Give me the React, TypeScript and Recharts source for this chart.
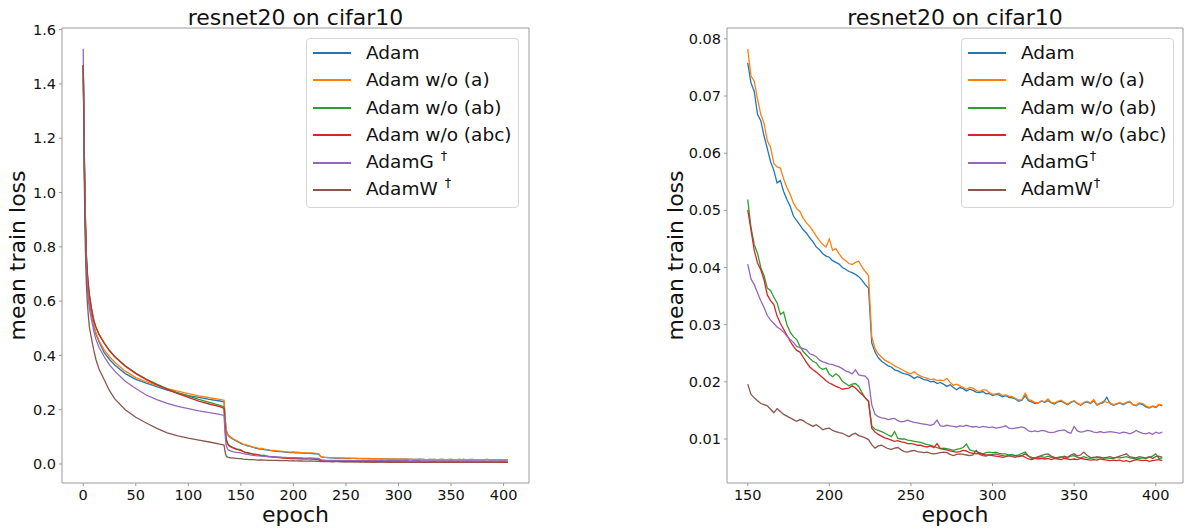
import React from "react";
import { LineChart, Line, XAxis, YAxis, ReferenceArea, Legend } from "recharts";

// epochs 0..148 (irregular), then every 2 epochs 150..404
const epochs = [
  0, 1, 2, 3, 4, 5, 6, 8, 10, 12, 15, 20, 25, 30, 40, 50, 60, 70, 80, 90, 100, 110, 120, 130, 134,
  135, 136, 137, 138, 140, 143, 146, 148,
  150, 152, 154, 156, 158, 160, 162, 164, 166, 168, 170, 172, 174, 176, 178, 180, 182, 184, 186, 188,
  190, 192, 194, 196, 198, 200, 202, 204, 206, 208, 210, 212, 214, 216, 218, 220, 222, 224, 226, 228,
  230, 232, 234, 236, 238, 240, 242, 244, 246, 248, 250, 252, 254, 256, 258, 260, 262, 264, 266, 268,
  270, 272, 274, 276, 278, 280, 282, 284, 286, 288, 290, 292, 294, 296, 298, 300, 302, 304, 306, 308,
  310, 312, 314, 316, 318, 320, 322, 324, 326, 328, 330, 332, 334, 336, 338, 340, 342, 344, 346, 348,
  350, 352, 354, 356, 358, 360, 362, 364, 366, 368, 370, 372, 374, 376, 378, 380, 382, 384, 386, 388,
  390, 392, 394, 396, 398, 400, 402, 404,
];

const adam = [
  1.47, 1.12, 0.88, 0.74, 0.67, 0.62, 0.59, 0.55, 0.51, 0.48, 0.45, 0.41, 0.385, 0.365, 0.333, 0.312, 0.298, 0.285, 0.272, 0.262, 0.252, 0.245, 0.238, 0.232, 0.229,
  0.17, 0.125, 0.112, 0.105, 0.098, 0.09, 0.084, 0.08,
  .0758, .0723, .0708, .0668, .0657, .0630, .0608, .0585, .0570, .0548,
  .0552, .0533, .0519, .0507, .0490, .0482, .0474, .0466, .0460, .0452,
  .0445, .0436, .0431, .0424, .0420, .0418, .0412, .0409, .0406, .0400,
  .0397, .0393, .0391, .0388, .0384, .0378, .0370, .0364, .0268, .0252,
  .0242, .0236, .0232, .0228, .0226, .0221, .0219, .0216, .0214, .0213,
  .0210, .0206, .0209, .0207, .0204, .0203, .0200, .0201, .0197, .0199,
  .0196, .0192, .0195, .0190, .0186, .0190, .0188, .0184, .0187, .0185,
  .0182, .0181, .0183, .0179, .0180, .0176, .0178, .0177, .0174, .0176,
  .0173, .0172, .0170, .0166, .0168, .0176, .0167, .0165, .0162, .0163,
  .0166, .0164, .0167, .0163, .0161, .0165, .0166, .0163, .0160, .0164,
  .0166, .0162, .0159, .0163, .0165, .0162, .0167, .0159, .0162, .0164,
  .0173, .0162, .0159, .0161, .0163, .0160, .0163, .0165, .0160, .0158,
  .0162, .0160, .0156, .0154, .0157, .0155, .0160, .0158,
];

const adamNoA = [
  1.47, 1.13, 0.89, 0.75, 0.68, 0.63, 0.6, 0.56, 0.515, 0.485, 0.455, 0.42, 0.395, 0.375, 0.342, 0.318, 0.303, 0.29, 0.278, 0.268, 0.259, 0.251, 0.244, 0.238, 0.235,
  0.17, 0.127, 0.114, 0.107, 0.1, 0.092, 0.086, 0.082,
  .0782, .0735, .0726, .0695, .0668, .0652, .0622, .0610, .0582, .0576,
  .0574, .0555, .0540, .0528, .0513, .0503, .0498, .0486, .0478, .0472,
  .0464, .0455, .0447, .0440, .0436, .0450, .0430, .0433, .0424, .0416,
  .0412, .0407, .0405, .0409, .0411, .0401, .0393, .0386, .0279, .0258,
  .0249, .0243, .0238, .0235, .0232, .0228, .0225, .0222, .0219, .0216,
  .0214, .0218, .0213, .0210, .0208, .0206, .0204, .0205, .0202, .0203,
  .0202, .0206, .0199, .0194, .0196, .0193, .0190, .0187, .0190, .0189,
  .0185, .0183, .0186, .0186, .0181, .0178, .0179, .0180, .0176, .0177,
  .0175, .0174, .0171, .0168, .0169, .0180, .0169, .0167, .0164, .0163,
  .0167, .0165, .0170, .0164, .0163, .0166, .0168, .0164, .0161, .0165,
  .0167, .0163, .0160, .0164, .0166, .0163, .0169, .0160, .0163, .0166,
  .0164, .0163, .0160, .0162, .0164, .0161, .0164, .0166, .0160, .0159,
  .0163, .0162, .0158, .0155, .0158, .0156, .0161, .0159,
];

const adamNoAB = [
  1.47, 1.15, 0.92, 0.77, 0.7, 0.655, 0.62, 0.57, 0.53, 0.505, 0.478, 0.445, 0.418, 0.396, 0.362, 0.335, 0.313, 0.294, 0.277, 0.262, 0.25, 0.238, 0.227, 0.216, 0.21,
  0.14, 0.095, 0.08, 0.072, 0.066, 0.06, 0.056, 0.054,
  .0519, .0470, .0440, .0425, .0400, .0386, .0364, .0360, .0348, .0338,
  .0318, .0322, .0300, .0287, .0279, .0274, .0262, .0253, .0247, .0241,
  .0236, .0233, .0225, .0222, .0224, .0213, .0209, .0214, .0210, .0201,
  .0197, .0193, .0196, .0197, .0192, .0181, .0172, .0166, .0123, .0117,
  .0115, .0113, .0110, .0107, .0104, .0113, .0101, .0100, .0100, .0098,
  .0097, .0096, .0095, .0094, .0092, .0090, .0089, .0087, .0085, .0083,
  .0084, .0083, .0082, .0080, .0082, .0083, .0085, .0091, .0081, .0079,
  .0078, .0076, .0074, .0076, .0077, .0076, .0077, .0075, .0074, .0074,
  .0072, .0073, .0071, .0072, .0075, .0077, .0070, .0066, .0066, .0068,
  .0069, .0068, .0070, .0068, .0067, .0068, .0069, .0067, .0068, .0070,
  .0071, .0068, .0067, .0069, .0067, .0066, .0068, .0067, .0068, .0066,
  .0067, .0066, .0066, .0068, .0067, .0068, .0069, .0067, .0066, .0065,
  .0066, .0067, .0066, .0068, .0070, .0074, .0066, .0067,
];

const adamNoABC = [
  1.47, 1.15, 0.92, 0.77, 0.7, 0.655, 0.62, 0.57, 0.53, 0.505, 0.478, 0.445, 0.417, 0.395, 0.36, 0.333, 0.311, 0.292, 0.275, 0.259, 0.245, 0.232, 0.221, 0.211, 0.205,
  0.14, 0.093, 0.078, 0.07, 0.064, 0.058, 0.054, 0.052,
  .0501, .0466, .0430, .0408, .0396, .0378, .0352, .0342, .0335, .0315,
  .0302, .0292, .0282, .0271, .0262, .0255, .0252, .0243, .0234, .0226,
  .0221, .0217, .0212, .0207, .0202, .0198, .0195, .0192, .0190, .0187,
  .0188, .0189, .0193, .0189, .0183, .0178, .0172, .0166, .0119, .0112,
  .0108, .0105, .0102, .0100, .0098, .0096, .0097, .0095, .0094, .0092,
  .0092, .0091, .0089, .0089, .0087, .0086, .0088, .0085, .0092, .0083,
  .0082, .0081, .0079, .0078, .0077, .0078, .0080, .0079, .0076, .0075,
  .0074, .0075, .0073, .0072, .0072, .0071, .0070, .0069, .0068, .0069,
  .0071, .0070, .0071, .0069, .0071, .0068, .0065, .0064, .0066, .0065,
  .0066, .0065, .0066, .0064, .0066, .0065, .0064, .0066, .0065, .0064,
  .0065, .0064, .0066, .0065, .0064, .0063, .0064, .0063, .0065, .0064,
  .0063, .0062, .0063, .0062, .0063, .0061, .0062, .0060, .0062, .0064,
  .0063, .0062, .0063, .0061, .0062, .0063, .0064, .0062,
];

const adamG = [
  1.53, 1.1, 0.86, 0.72, 0.65, 0.6, 0.57, 0.53, 0.49, 0.46, 0.43, 0.395, 0.365, 0.342, 0.305, 0.278, 0.254, 0.237, 0.223, 0.212, 0.204, 0.196, 0.189, 0.183, 0.179,
  0.11, 0.07, 0.058, 0.052, 0.048, 0.045, 0.043, 0.042,
  .0406, .0380, .0370, .0356, .0342, .0330, .0316, .0308, .0302, .0296,
  .0292, .0287, .0280, .0274, .0269, .0262, .0260, .0258, .0256, .0249,
  .0247, .0244, .0238, .0235, .0233, .0231, .0230, .0228, .0226, .0223,
  .0219, .0217, .0214, .0221, .0212, .0211, .0210, .0203, .0160, .0143,
  .0139, .0137, .0136, .0134, .0135, .0136, .0132, .0130, .0131, .0133,
  .0131, .0129, .0128, .0127, .0126, .0125, .0124, .0126, .0133, .0123,
  .0122, .0124, .0123, .0122, .0121, .0123, .0122, .0124, .0122, .0121,
  .0122, .0120, .0122, .0121, .0120, .0121, .0119, .0120, .0121, .0123,
  .0119, .0118, .0119, .0120, .0121, .0119, .0114, .0113, .0114, .0113,
  .0115, .0114, .0112, .0111, .0112, .0114, .0115, .0116, .0112, .0110,
  .0122, .0114, .0112, .0113, .0115, .0114, .0112, .0111, .0113, .0111,
  .0112, .0113, .0112, .0111, .0110, .0112, .0111, .0109, .0111, .0115,
  .0112, .0110, .0109, .0111, .0108, .0112, .0110, .0112,
];

const adamW = [
  1.47, 1.05, 0.8, 0.66, 0.59, 0.54, 0.5, 0.46, 0.42, 0.386, 0.35, 0.31, 0.27, 0.24, 0.2, 0.172, 0.151, 0.131, 0.115, 0.104, 0.095, 0.088, 0.081, 0.073, 0.07,
  0.045, 0.03, 0.026, 0.024, 0.023, 0.022, 0.021, 0.02,
  .0196, .0178, .0172, .0167, .0162, .0160, .0158, .0152, .0146, .0153,
  .0148, .0143, .0140, .0137, .0134, .0131, .0134, .0132, .0128, .0125,
  .0122, .0125, .0121, .0116, .0118, .0119, .0115, .0113, .0111, .0110,
  .0107, .0104, .0108, .0110, .0106, .0104, .0102, .0099, .0090, .0084,
  .0088, .0089, .0086, .0083, .0082, .0084, .0085, .0081, .0078, .0077,
  .0079, .0080, .0078, .0077, .0076, .0077, .0075, .0074, .0075, .0076,
  .0077, .0076, .0073, .0071, .0073, .0074, .0073, .0072, .0071, .0072,
  .0080, .0073, .0071, .0070, .0072, .0073, .0074, .0072, .0071, .0070,
  .0071, .0069, .0068, .0070, .0071, .0074, .0070, .0068, .0067, .0069,
  .0071, .0073, .0074, .0070, .0068, .0067, .0068, .0070, .0068, .0072,
  .0074, .0070, .0072, .0077, .0071, .0068, .0067, .0069, .0068, .0067,
  .0068, .0069, .0067, .0068, .0070, .0072, .0074, .0069, .0068, .0067,
  .0069, .0068, .0067, .0069, .0066, .0069, .0070, .0068,
];

const leftXTicks = [0, 50, 100, 150, 200, 250, 300, 350, 400];
const leftYTicks = [0, 0.2, 0.4, 0.6, 0.8, 1.0, 1.2, 1.4, 1.6];
const rightXTicks = [150, 200, 250, 300, 350, 400];
const rightYTicks = [0.01, 0.02, 0.03, 0.04, 0.05, 0.06, 0.07, 0.08];

const title = "resnet20 on cifar10";

const FONT = "'DejaVu Sans', sans-serif";
const FRAME = "#9a9a9a";
const TEXT = "#111";

type Series = { key: string; name: string; color: string; values: number[]; dagger?: boolean };

const series: Series[] = [
  { key: "adam", name: "Adam", color: "#1f77b4", values: adam },
  { key: "noA", name: "Adam w/o (a)", color: "#ff7f0e", values: adamNoA },
  { key: "noAB", name: "Adam w/o (ab)", color: "#2ca02c", values: adamNoAB },
  { key: "noABC", name: "Adam w/o (abc)", color: "#d62728", values: adamNoABC },
  { key: "adamG", name: "AdamG", color: "#9467bd", values: adamG, dagger: true },
  { key: "adamW", name: "AdamW", color: "#8c564b", values: adamW, dagger: true },
];

const rows = epochs.map((epoch, i) => {
  const r: Record<string, number> = { epoch };
  series.forEach((s) => { r[s.key] = s.values[i]; });
  return r;
});
const lateRows = rows.filter((r) => r.epoch >= 150);

function LegendBox({ spaced }: { spaced: boolean }) {
  return (
    <div
      style={{
        position: "relative", width: 213, height: 170, boxSizing: "border-box",
        border: "1px solid #d6d6d6", borderRadius: 4, background: "rgba(255,255,255,0.8)",
        fontFamily: FONT, fontSize: 18.5, color: TEXT,
      }}
    >
      {series.map((s, i) => (
        <div
          key={s.key}
          style={{
            position: "absolute", left: 6, top: 14 + i * 27.4 - 12, height: 24,
            display: "flex", alignItems: "center", whiteSpace: "nowrap",
          }}
        >
          <span style={{ display: "inline-block", width: 38, height: 2, background: s.color }} />
          <span style={{ marginLeft: 15, lineHeight: "24px" }}>
            {s.name}
            {s.dagger && (
              <span style={{ fontSize: 13, position: "relative", top: -8, marginLeft: spaced ? 7 : 1 }}>†</span>
            )}
          </span>
        </div>
      ))}
    </div>
  );
}

type PanelProps = {
  data: Record<string, number>[];
  width: number;
  yAxisWidth: number;
  marginRight: number;
  xDomain: [number, number];
  yDomain: [number, number];
  xTicks: number[];
  yTicks: number[];
  yDigits: number;
  legendLeft: number;
  spacedDagger: boolean;
  yLabelX: number;
};

function Panel(p: PanelProps) {
  const tick = { fontSize: 14.5, fill: TEXT, fontFamily: FONT };
  return (
    <LineChart
      width={p.width}
      height={532}
      data={p.data}
      margin={{ top: 28, right: p.marginRight, bottom: 0, left: 0 }}
    >
      <XAxis
        dataKey="epoch"
        type="number"
        domain={p.xDomain}
        ticks={p.xTicks}
        allowDataOverflow
        height={49}
        axisLine={false}
        tickLine={{ stroke: FRAME }}
        tickSize={3}
        tickMargin={4}
        tick={tick}
        label={{ value: "epoch", position: "insideBottom", offset: 10, fontSize: 22, fill: TEXT, fontFamily: FONT }}
      />
      <YAxis
        type="number"
        domain={p.yDomain}
        ticks={p.yTicks}
        allowDataOverflow
        width={p.yAxisWidth}
        axisLine={false}
        tickLine={{ stroke: FRAME }}
        tickSize={3}
        tickMargin={3}
        tick={tick}
        tickFormatter={(v: number) => v.toFixed(p.yDigits)}
        label={{
          content: (lp: any) => {
            const vb = lp.viewBox || { x: 0, y: 28, height: 455 };
            const cx = vb.x + p.yLabelX;
            const cy = vb.y + vb.height / 2;
            return (
              <text x={cx} y={cy} transform={`rotate(-90 ${cx} ${cy})`} textAnchor="middle"
                fontSize={22} fill={TEXT} fontFamily={FONT}>
                mean train loss
              </text>
            );
          },
        }}
      />
      <ReferenceArea
        x1={p.xDomain[0]} x2={p.xDomain[1]} y1={p.yDomain[0]} y2={p.yDomain[1]}
        fill="none" fillOpacity={0} stroke={FRAME} strokeWidth={1} ifOverflow="visible"
      />
      {series.map((s) => (
        <Line
          key={s.key}
          type="linear"
          dataKey={s.key}
          name={s.name}
          stroke={s.color}
          strokeWidth={1.3}
          dot={false}
          activeDot={false}
          isAnimationActive={false}
        />
      ))}
      <Legend
        layout="vertical"
        align="center"
        verticalAlign="middle"
        wrapperStyle={{ left: p.legendLeft, top: 38, width: 213, height: 170, margin: 0 }}
        content={() => <LegendBox spaced={p.spacedDagger} />}
      />
    </LineChart>
  );
}

export default function App() {
  return (
    <div style={{ position: "absolute", left: 0, top: 0, width: 1186, height: 532, background: "#fff", fontFamily: FONT }}>
      <div style={{ position: "absolute", left: 0, top: 0 }}>
        <Panel
          data={rows}
          width={540}
          yAxisWidth={62}
          marginRight={11}
          xDomain={[-20.2, 424.2]}
          yDomain={[-0.07, 1.606]}
          xTicks={leftXTicks}
          yTicks={leftYTicks}
          yDigits={1}
          legendLeft={306}
          spacedDagger={true}
          yLabelX={25}
        />
      </div>
      <div style={{ position: "absolute", left: 640, top: 0 }}>
        <Panel
          data={lateRows}
          width={546}
          yAxisWidth={87}
          marginRight={3}
          xDomain={[137.3, 416.7]}
          yDomain={[0.0023, 0.0819]}
          xTicks={rightXTicks}
          yTicks={rightYTicks}
          yDigits={2}
          legendLeft={321}
          spacedDagger={false}
          yLabelX={43}
        />
      </div>
      <svg width={1186} height={40} style={{ position: "absolute", left: 0, top: 0, pointerEvents: "none" }}>
        <text x={295.5} y={25} textAnchor="middle" fontSize={22} fill={TEXT} fontFamily={FONT}>{title}</text>
        <text x={955} y={25} textAnchor="middle" fontSize={22} fill={TEXT} fontFamily={FONT}>{title}</text>
      </svg>
    </div>
  );
}
